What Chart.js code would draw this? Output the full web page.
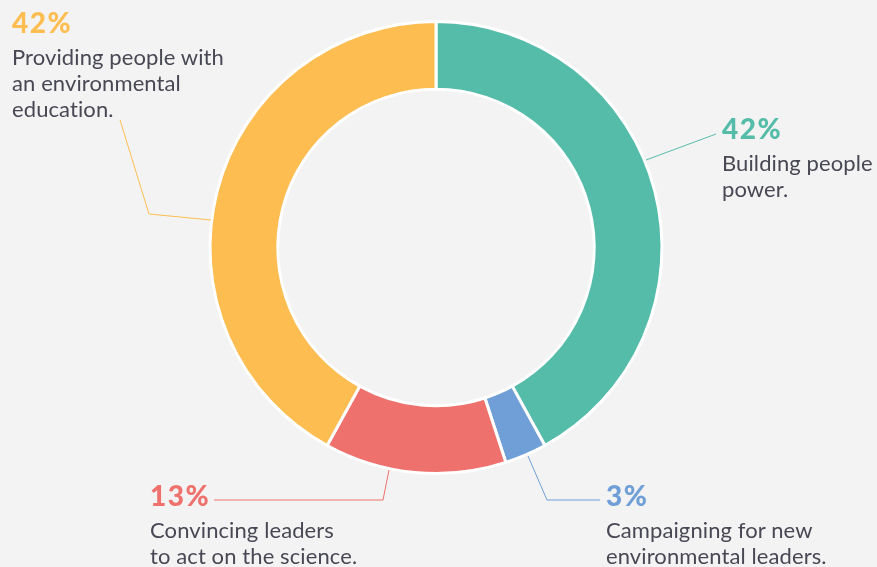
<!DOCTYPE html>
<html>
<head>
<meta charset="utf-8">
<script src="https://cdn.jsdelivr.net/npm/chart.js@4"></script>
<style>
  html, body { margin: 0; padding: 0; background: #f3f3f3; }
  #wrap { position: relative; width: 877px; height: 567px; overflow: hidden; }
  canvas { position: absolute; left: 0; top: 0; }
  .lbl { position: absolute; font-family: Lato, sans-serif; color: #484854; white-space: nowrap; }
  .pct { font-size: 28px; line-height: 28px; font-weight: 900; letter-spacing: 1.5px; }
  .txt { font-size: 22px; line-height: 26px; margin-top: 8px; letter-spacing: 0.1px; }
</style>
</head>
<body>
<div id="wrap">
  <canvas id="donut" width="877" height="567"></canvas>
</div>
<script>
const categories = ['Building people power.', 'Campaigning for new environmental leaders.', 'Convincing leaders to act on the science.', 'Providing people with an environmental education.'];
const shares = [42, 3, 13, 42];
const colors = ['#55bcaa', '#6f9fd6', '#ef716d', '#fdbd51'];
const labelLines = [
    ['Building people', 'power.'],
    ['Campaigning for new', 'environmental leaders.'],
    ['Convincing leaders', 'to act on the science.'],
    ['Providing people with', 'an environmental', 'education.']
];
// label box positions and leader lines (layout only)
const labelPos = [[722, 114], [606, 481], [150, 481], [12, 8]];
const leaders = [
    [[646, 160], [716, 134]],
    [[528, 456], [547, 500], [600, 500]],
    [[389, 470], [383, 500], [214, 500]],
    [[211, 220], [149, 214], [120, 120]]
];

const wrap = document.getElementById('wrap');
categories.forEach((c, i) => {
    const d = document.createElement('div');
    d.className = 'lbl';
    d.style.left = labelPos[i][0] + 'px';
    d.style.top = labelPos[i][1] + 'px';
    d.innerHTML = `<div class="pct" style="color:${colors[i]}">${shares[i]}%</div>` +
        `<div class="txt">${labelLines[i].join('<br>')}</div>`;
    wrap.appendChild(d);
});

const leaderPlugin = {
    id: 'leaders',
    afterDraw(chart) {
        const c = chart.ctx;
        c.save();
        c.lineWidth = 1;
        leaders.forEach((pts, i) => {
            c.strokeStyle = colors[i];
            c.beginPath();
            pts.forEach((p, j) => j ? c.lineTo(p[0], p[1]) : c.moveTo(p[0], p[1]));
            c.stroke();
        });
        c.restore();
    }
};

new Chart(document.getElementById('donut'), {
    type: 'doughnut',
    data: {
        labels: categories,
        datasets: [{
            data: shares,
            backgroundColor: colors,
            borderColor: '#ffffff',
            borderWidth: 3
        }]
    },
    options: {
        responsive: false,
        animation: false,
        cutout: '70%',
        events: [],
        layout: { padding: { top: 20, bottom: 92, left: 0, right: 5 } },
        plugins: { legend: { display: false }, tooltip: { enabled: false } }
    },
    plugins: [leaderPlugin]
});
</script>
</body>
</html>
